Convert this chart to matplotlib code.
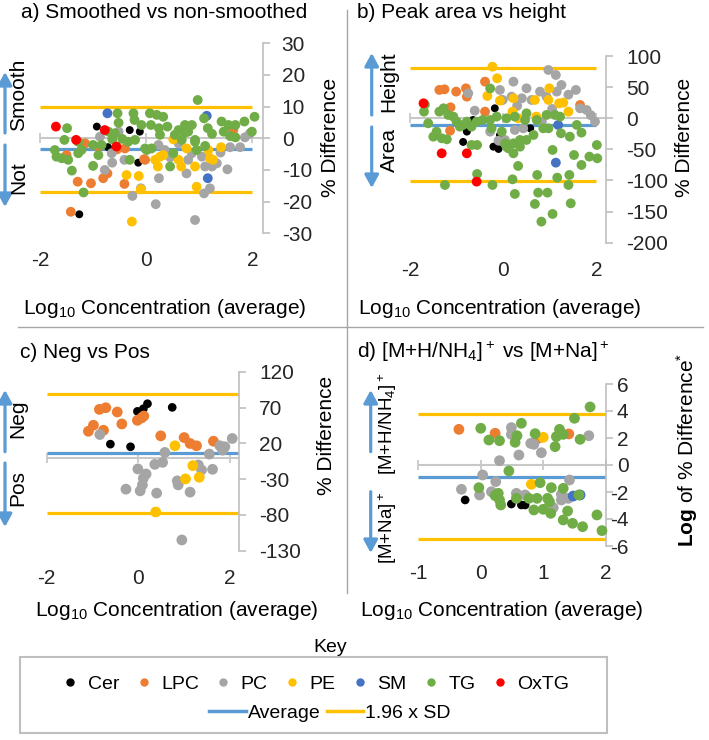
import matplotlib
matplotlib.use('Agg')
import matplotlib.pyplot as plt
from matplotlib.patches import FancyArrowPatch, Rectangle
from matplotlib.lines import Line2D

plt.rcParams['font.family'] = ['Liberation Sans', 'DejaVu Sans']
plt.rcParams['mathtext.fontset'] = 'custom'
plt.rcParams['mathtext.rm'] = 'Liberation Sans'
plt.rcParams['mathtext.it'] = 'Liberation Sans:italic'
plt.rcParams['mathtext.bf'] = 'Liberation Sans:bold'
plt.rcParams['axes.unicode_minus'] = False

classes = ['Cer', 'LPC', 'PC', 'PE', 'SM', 'TG', 'OxTG']
colors = ['#000000', '#ED7D31', '#A5A5A5', '#FFC000', '#4472C4', '#70AD47', '#FF0000']

# ---- a) smoothed vs non-smoothed (x = log10 conc, y = % difference)
a_cer = [(-0.93, 3.7), (-0.31, 2.6), (-0.12, 2.1), (-0.15, -7.7), (-1.26, -24.0), (-0.72, -2.8)]
a_lpc = [(-1.50, -5.3), (-1.29, -13.7), (-1.04, -14.2), (-0.81, -12.6), (-0.73, -11.1), (-0.40, -3.2),
         (-0.41, -14.4), (-0.04, -6.6), (-1.42, -23.2), (-1.15, -1.6), (-0.90, -2.8), (-0.02, -6.8),
         (1.64, 2.6), (-0.55, -3.5)]
a_pc = [(-0.87, 0.5), (-0.65, -4.7), (-0.64, -7.7), (-0.78, -10.0), (-0.41, -6.8), (-0.26, -18.2),
        (-0.10, -15.8), (-0.52, 2.1), (0.24, -12.6), (0.18, -20.8), (0.92, -25.8), (1.53, -9.8),
        (1.09, -17.4), (1.20, -15.8), (0.76, -11.1), (1.11, -8.9), (1.24, -8.9), (0.79, -6.8),
        (0.86, -4.7), (1.58, -2.8), (1.77, -2.8), (1.86, 0.3), (0.23, -2.1), (0.61, -1.6),
        (0.35, -3.7), (1.05, -5.8), (1.33, -7.9), (1.95, 1.5), (0.45, -6.0), (1.40, -4.5)]
a_pe = [(-0.37, -11.6), (-0.14, -11.9), (-0.10, -16.1), (-0.27, -26.3), (0.17, -6.8), (0.26, -5.8),
        (0.32, -5.3), (0.22, -8.9), (0.61, -6.8), (0.66, -8.9), (0.92, -8.9), (0.76, -3.2),
        (1.17, -3.7), (1.20, -6.3), (1.26, -6.8), (1.41, -2.8), (0.95, -15.3), (0.51, -0.3)]
a_sm = [(-0.73, 7.9), (1.14, 7.1), (1.16, -12.6)]
a_tg = [(-1.49, 3.2), (-1.54, -0.5), (-1.28, -1.1), (-1.72, -3.7), (-1.69, -5.8), (-1.59, -6.3),
        (-1.47, -6.8), (-1.40, -10.2), (-1.18, -17.1), (-1.28, -4.7), (-1.22, -3.7), (-1.00, -2.1),
        (-0.90, -5.3), (-1.00, -8.7), (-0.84, -2.1), (-0.71, 2.1), (-0.64, -0.3), (-0.54, 7.9),
        (-0.52, 4.9), (-0.45, -0.2), (-0.24, 7.9), (-0.22, 5.8), (-0.09, 4.2), (-0.21, -0.5),
        (0.01, -3.7), (0.07, 7.9), (-0.31, -6.8), (-0.59, 1.6), (-0.34, -1.1),
        (0.97, 12.1), (0.20, 7.4), (0.32, 6.8), (0.09, 4.2), (0.24, 3.2), (0.40, 3.7), (0.26, 1.1),
        (0.54, 1.1), (0.73, 4.2), (0.86, 4.2), (0.72, 1.6), (0.67, -0.5), (0.79, 2.1), (1.09, 6.3),
        (1.16, 3.2), (1.24, 1.4), (1.42, 5.3), (1.55, 4.2), (1.68, 4.2), (1.85, 5.3), (2.04, 6.8),
        (1.99, 2.1), (1.46, 2.1), (1.58, 0.7), (1.68, 0.3), (0.92, -1.1), (1.11, -2.4), (0.95, -3.7),
        (0.51, -4.7), (0.45, -8.9), (-0.02, -3.2), (0.10, -3.2), (0.61, 2.6), (0.92, -0.5)]
a_oxtg = [(-1.70, 3.7), (-1.32, -0.5), (-0.78, 2.6), (-0.56, -2.6)]
a_mean, a_hi, a_lo = -3.5, 10.0, -17.1

# ---- b) peak area vs height
b_cer = [(-0.18, 16.1), (-0.78, -21.4), (-0.86, -38.0), (-0.65, -2.7), (-0.07, -27.0),
         (-0.21, -45.6), (-0.10, -49.3), (0.58, -16.1)]
b_lpc = [(-1.37, 45.6), (-1.26, 46.6), (-1.01, 42.9), (-0.80, 48.2), (-1.13, 17.7), (-0.39, 58.9),
         (-0.39, 10.7), (-0.78, 34.8), (1.65, 21.4), (-0.03, 29.5), (-1.14, -20.0)]
b_pc = [(-0.75, 40.2), (-0.61, 12.3), (-0.28, -21.4), (-0.07, 45.6), (-0.10, -35.9), (0.97, 77.7),
        (1.13, 69.7), (0.22, 58.9), (0.50, 48.2), (0.79, 42.9), (0.93, 34.8), (1.25, 53.6),
        (1.56, 45.6), (1.15, 42.9), (0.61, 29.5), (0.40, 32.2), (-0.01, 29.5), (1.79, 13.4),
        (1.97, -5.4), (1.65, 16.1), (0.25, -18.8), (0.43, -16.1), (0.83, -5.4), (0.04, -34.8),
        (0.18, 34.8), (1.88, 5.0), (1.40, 38.0), (0.30, 20.0), (1.05, 15.0)]
b_pe = [(-0.23, 83.0), (-0.13, 64.3), (-0.34, 35.9), (-0.07, 28.4), (0.22, 32.2), (0.68, 29.5),
        (0.97, 29.5), (0.99, 48.2), (1.20, 24.1), (1.29, 25.2), (1.40, 10.7), (0.20, 10.7),
        (0.32, 0.0), (0.71, 2.7)]
b_sm = [(1.18, -10.7), (1.13, -71.3)]
b_tg = [(-1.70, 10.7), (-1.61, -8.0), (-1.43, -21.4), (-1.50, -29.5), (-1.32, -32.2), (-1.21, -33.8),
        (-1.37, 10.7), (-1.28, 16.1), (-1.18, 5.4), (-1.07, 2.7), (-1.00, -5.4), (-0.93, -13.4),
        (-0.86, -10.7), (-0.78, -5.4), (-0.68, -13.4), (-0.57, -5.4), (-0.44, -2.7), (-0.28, -2.7),
        (-0.14, 2.7), (-0.03, -21.4), (-0.25, -16.1), (-0.56, -42.9), (-0.68, -42.9), (-0.56, -89.5),
        (-1.25, -107.2), (-0.23, -107.2), (-0.28, 48.0), (-1.68, 22.0),
        (0.07, 0.0), (0.25, 2.7), (0.47, -2.7), (0.50, 8.0), (0.72, -2.7), (0.93, 5.4), (1.11, 5.4),
        (1.22, 2.7), (0.86, -16.1), (0.97, -16.1), (0.65, -26.8), (0.50, -34.8), (0.36, -34.8),
        (0.22, -40.2), (0.07, -45.6), (0.04, -40.2), (0.11, -48.2), (0.22, -56.3), (0.36, -45.6),
        (1.24, -24.1), (1.43, -29.5), (1.58, -10.7), (1.68, -23.0), (2.01, -42.9), (1.85, -61.6),
        (2.02, -64.3), (1.68, -75.0), (1.52, -59.0), (1.06, -50.9), (0.32, -76.6), (0.20, -98.1),
        (0.25, -121.6), (0.73, -91.1), (1.16, -95.4), (1.42, -91.1), (1.40, -107.2), (0.75, -119.5),
        (0.95, -119.5), (0.68, -137.7), (1.45, -136.7), (1.06, -153.8), (0.82, -166.1)]
b_oxtg = [(-1.71, 24.1), (-1.32, -56.3), (-0.78, -56.3), (-0.57, -101.8)]
b_mean, b_hi, b_lo = -10.7, 80.5, -101.0

# ---- c) neg vs pos
c_cer = [(-0.02, 64.8), (0.11, 68.5), (0.20, 75.5), (0.74, 70.4), (-0.61, 19.0), (-0.17, 15.3)]
c_lpc = [(-1.09, 37.0), (-0.98, 45.4), (-0.85, 67.6), (-0.71, 69.9), (-0.76, 38.4), (-0.46, 63.9),
         (-0.36, 47.2), (-0.02, 52.3), (0.07, 55.6), (0.12, 58.3), (0.49, 30.6), (1.00, 28.2),
         (1.13, 19.9), (1.27, 16.7), (1.64, 23.1)]
c_pc = [(-0.84, 32.4), (0.58, 7.4), (-0.01, -15.7), (0.17, -22.7), (0.11, -28.7), (0.36, -9.3),
        (0.53, -6.5), (-0.27, -44.0), (0.04, -46.3), (0.09, -38.0), (0.40, -49.5), (0.85, -32.4),
        (0.87, -38.0), (1.13, -48.1), (1.31, -10.2), (1.38, -17.1), (1.62, -16.2), (0.95, -115.0),
        (1.55, 5.1), (1.78, 16.7), (1.89, 15.3), (2.05, 26.9), (1.84, 10.6)]
c_pe = [(0.80, 16.7), (1.19, -11.1), (1.03, -29.6), (1.33, -27.3), (0.38, -75.9)]
c_mean, c_hi, c_lo = 6.0, 89.4, -77.3

# ---- d) [M+H/NH4]+ vs [M+Na]+
d_cer = [(-0.25, -2.59), (0.49, -2.89), (0.65, -2.96), (0.71, -2.96)]
d_lpc = [(-0.35, 2.64), (0.23, 2.35), (1.41, 2.30), (0.92, 1.98)]
d_pc = [(0.49, 2.77), (0.49, 2.27), (0.80, 1.60), (0.85, 1.53), (0.97, 0.91), (0.61, 0.74),
        (0.30, 0.32), (0.03, -0.74), (0.24, -1.23), (-0.31, -1.80), (-0.02, -2.22), (0.17, -1.98),
        (0.57, -2.10), (0.71, -2.22), (1.29, -2.17), (1.40, -2.47), (1.42, -1.11), (1.73, 2.17),
        (1.16, -3.16), (1.29, -2.59)]
d_pe = [(1.00, 2.05), (0.81, -1.43)]
d_sm = [(1.48, -2.30), (1.59, -2.22)]
d_tg = [(0.00, 2.72), (0.13, 1.85), (0.30, 1.80), (0.65, 3.09), (0.58, 2.17), (0.55, 1.68),
        (0.87, 2.32), (1.19, 1.36), (1.26, 2.64), (1.32, 2.27), (1.50, 3.46), (1.75, 4.30),
        (1.59, 1.90), (1.21, 2.10), (0.45, -0.44), (-0.03, -1.68), (0.28, -2.10), (0.30, -2.59),
        (0.23, -2.27), (0.32, -2.96), (0.57, -2.47), (0.77, -2.47), (0.90, -2.47), (0.95, -1.31),
        (1.07, -2.47), (1.13, -1.68), (1.10, -2.72), (1.32, -1.73), (0.85, -3.33), (1.00, -3.28),
        (1.12, -3.58), (1.39, -3.41), (1.32, -4.07), (1.47, -4.32), (1.63, -4.57), (1.86, -3.70),
        (1.94, -4.86), (1.57, -2.22)]
d_mean, d_hi, d_lo = -0.86, 3.75, -5.48

W, H = 709, 740
fig = plt.figure(figsize=(W / 100, H / 100), dpi=100)


def fp(x, y):
    # pixel position (top-left origin) -> figure fraction
    return (x / W, 1 - y / H)


def panel(rect, xlim, ylim, xticks, yticks, groups, mean, hi, lo, line_x, size, ypad, yha='left'):
    x0, y0, x1, y1 = rect
    ax = fig.add_axes([x0 / W, 1 - y1 / H, (x1 - x0) / W, (y1 - y0) / H])
    ax.patch.set_alpha(0)
    ax.set_xlim(xlim)
    ax.set_ylim(ylim)
    for s in ['top', 'left', 'bottom']:
        ax.spines[s].set_visible(False)
    ax.spines['right'].set_color('#BFBFBF')
    ax.spines['right'].set_linewidth(1.2)
    ax.yaxis.tick_right()
    ax.set_xticks(xticks)
    ax.set_yticks(yticks)
    ax.tick_params(axis='y', direction='out', length=5, width=1.2, color='#BFBFBF',
                   labelsize=15, labelcolor='#262626', pad=ypad)
    for lab in ax.get_yticklabels():
        lab.set_horizontalalignment(yha)
    ax.tick_params(axis='x', length=0, labelsize=15, labelcolor='#262626', pad=13)
    ax.axhline(0, color='#C8C8C8', lw=1.5, zorder=1)
    ax.plot(xticks, [0] * len(xticks), ls='none', marker='|', ms=7, mew=1.3,
            color='#C8C8C8', zorder=1, clip_on=False)
    ax.plot(line_x, [mean, mean], color='#5B9BD5', lw=2.3, zorder=2, solid_capstyle='butt')
    ax.plot(line_x, [hi, hi], color='#FFC000', lw=2.3, zorder=2, solid_capstyle='butt')
    ax.plot(line_x, [lo, lo], color='#FFC000', lw=2.3, zorder=2, solid_capstyle='butt')
    for name, col in zip(classes, colors):
        pts = groups.get(name)
        if not pts:
            continue
        xs, ys = zip(*pts)
        s = size * 0.65 if name == 'Cer' else size
        ax.scatter(xs, ys, s=s, color=col, edgecolors='none', zorder=3, clip_on=False)
    return ax


panel((40, 43.3, 263, 233.3), (-2, 2.2), (-30, 30), [-2, 0, 2], range(-30, 31, 10),
      {'Cer': a_cer, 'LPC': a_lpc, 'PC': a_pc, 'PE': a_pe, 'SM': a_sm, 'TG': a_tg, 'OxTG': a_oxtg},
      a_mean, a_hi, a_lo, [-2, 2], 50, 8.5)
panel((410, 56.1, 605.7, 242.7), (-2, 2.2), (-200, 100), [-2, 0, 2], range(-200, 101, 50),
      {'Cer': b_cer, 'LPC': b_lpc, 'PC': b_pc, 'PE': b_pe, 'SM': b_sm, 'TG': b_tg, 'OxTG': b_oxtg},
      b_mean, b_hi, b_lo, [-2, 2], 50, 10)
panel((46.7, 371.9, 239.1, 550.7), (-2, 2.2), (-130, 120), [-2, 0, 2], range(-130, 121, 50),
      {'Cer': c_cer, 'LPC': c_lpc, 'PC': c_pc, 'PE': c_pe},
      c_mean, c_hi, c_lo, [-2, 2.2], 60, 9.5)
panel((418.3, 384, 605.7, 546), (-1, 2), (-6, 6), [-1, 0, 1, 2], range(-6, 7, 2),
      {'Cer': d_cer, 'LPC': d_lpc, 'PC': d_pc, 'PE': d_pe, 'SM': d_sm, 'TG': d_tg},
      d_mean, d_hi, d_lo, [-1, 2], 60, 11.5, yha='right')

# titles
fs = 15
fig.text(*fp(21, 13), 'a) Smoothed vs non-smoothed', fontsize=fs, va='center')
fig.text(*fp(357, 13), 'b) Peak area vs height', fontsize=fs, va='center')
fig.text(*fp(20, 352), 'c) Neg vs Pos', fontsize=fs, va='center')
fig.text(*fp(357, 352), 'd) [M+H/NH$_4$]$^+$ vs [M+Na]$^+$', fontsize=fs, va='center')

# axis titles
xlab = 'Log$_{10}$ Concentration (average)'
for (x, y) in [(165, 308), (500, 308), (177, 610), (502, 610)]:
    fig.text(*fp(x, y), xlab, fontsize=fs, ha='center', va='center')
for (x, y) in [(330, 137.5), (685, 137), (327, 435)]:
    fig.text(*fp(x, y), '% Difference', fontsize=fs, ha='center', va='center', rotation=90)
fig.text(*fp(687, 450), r'$\mathbf{Log}$ of % Difference$^{*}$', fontsize=fs,
         ha='center', va='center', rotation=90)

# direction arrows and labels
arrow_col = '#5B9BD5'
arrows = [((5, 133), (5, 72)), ((5, 145), (5, 207)),
          ((371.7, 115), (371.7, 53)), ((371.7, 127), (371.7, 188)),
          ((5, 451.7), (5, 390)), ((5, 463), (5, 527)),
          ((370.7, 451.7), (370.7, 390)), ((370.7, 491.7), (370.7, 553))]
for a, b in arrows:
    fig.add_artist(FancyArrowPatch(fp(*a), fp(*b), transform=fig.transFigure,
                                   arrowstyle='-|>,head_length=0.55,head_width=0.3',
                                   mutation_scale=14, lw=2.3, color=arrow_col,
                                   shrinkA=0, shrinkB=0))
side_labels = [((19, 95), 'Smooth', fs), ((19, 178), 'Not', fs),
               ((389, 82), 'Height', fs), ((389, 150), 'Area', fs),
               ((18, 419), 'Neg', fs), ((18, 488), 'Pos', fs),
               ((388, 424), '[M+H/NH$_4$]$^+$', 13.5), ((388, 528), '[M+Na]$^+$', 13.5)]
for (x, y), t, size in side_labels:
    fig.text(*fp(x, y), t, fontsize=size, ha='center', va='center', rotation=90)

# divider lines
fig.add_artist(Line2D([347 / W, 347 / W], [1 - 10 / H, 1 - 593 / H], transform=fig.transFigure,
                      color='#A6A6A6', lw=1))
fig.add_artist(Line2D([18 / W, 703 / W], [1 - 327 / H, 1 - 327 / H], transform=fig.transFigure,
                      color='#A6A6A6', lw=1))

# key
fig.add_artist(Rectangle(fp(20, 733), 587 / W, 76 / H, transform=fig.transFigure,
                         fill=False, edgecolor='#BFBFBF', lw=1.5))
fig.text(*fp(330, 648), 'Key', fontsize=14, ha='center', va='center')
dot_handles = [Line2D([], [], ls='none', marker='o', ms=5, color=c) for c in colors]
fig.legend(dot_handles, classes, loc='center', bbox_to_anchor=fp(316, 684), ncol=7,
           frameon=False, fontsize=14, handlelength=0.8, handletextpad=0.5,
           columnspacing=0.85, borderpad=0, borderaxespad=0)
line_handles = [Line2D([], [], color='#5B9BD5', lw=2.5), Line2D([], [], color='#FFC000', lw=2.5)]
fig.legend(line_handles, ['Average', '1.96 x SD'], loc='center', bbox_to_anchor=fp(330, 713),
           ncol=2, frameon=False, fontsize=14, handlelength=1.9, handletextpad=0.1,
           columnspacing=0.3, borderpad=0, borderaxespad=0)

fig.savefig('out.png', dpi=100)
